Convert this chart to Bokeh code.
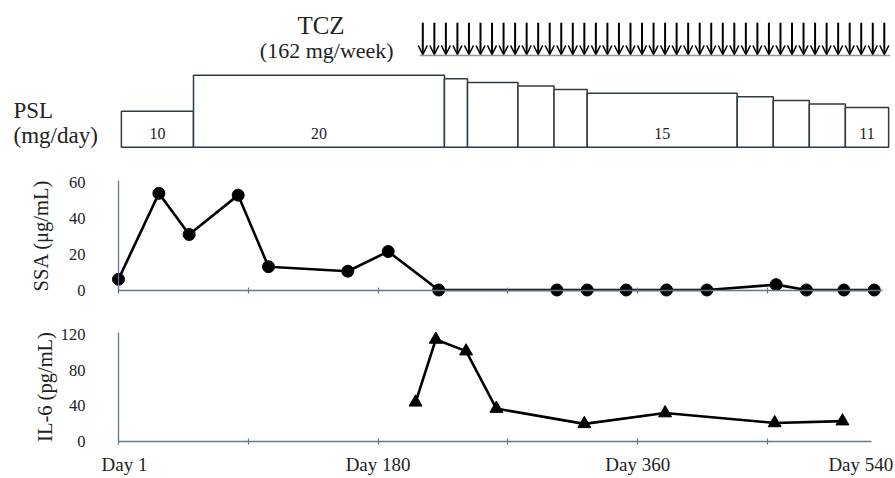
from bokeh.plotting import figure
from bokeh.models import (FixedTicker, LinearAxis, Range1d, Arrow, OpenHead,
                          ColumnDataSource, CustomJSTickFormatter)
from bokeh.layouts import column
from bokeh.embed import file_html
from bokeh.resources import INLINE
from bokeh.core.properties import value

# ---------------- data ----------------
tcz_days = [211, 219, 227, 235, 243, 251, 259, 267, 275, 283, 291, 299, 307, 315,
            323, 331, 339, 347, 355, 363, 371, 379, 387, 395, 403, 411, 419, 427,
            435, 443, 451, 459, 467, 475, 483, 491, 499, 507, 515, 523, 531]
psl_start = [2, 52, 226, 242, 277, 302, 325, 429, 454, 479, 504]
psl_end = [52, 226, 242, 277, 302, 325, 429, 454, 479, 504, 534]
psl_dose = [10, 20, 19, 18, 17, 16, 15, 14, 13, 12, 11]
psl_labels = ["10", "20", "", "", "", "", "15", "", "", "", "11"]

ssa_day = [0, 28, 49, 83, 104, 159, 187, 222, 304, 325, 352, 380, 408, 456, 477, 503, 524]
ssa_val = [6, 54, 31, 53, 13, 10.5, 21.5, 0, 0, 0, 0, 0, 0, 3, 0, 0, 0]

il6_day = [206, 220, 241, 262, 323, 379, 455, 502]
il6_val = [44, 114, 101, 37, 20, 32, 21, 23]

ssa_ticks = [0, 20, 40, 60]
il6_ticks = [0, 40, 80, 120]
day_ticks = [0, 90, 180, 270, 360, 450]
day_labels = ["Day 1", "Day 180", "Day 360", "Day 540"]
day_label_at = [0, 180, 360, 540]

# ---------------- styling ----------------
FONT = value("Liberation Serif")
FONT_NAME = "Liberation Serif"
TXT = "#222222"
AXC = "#62788a"
BOX = "#2f3b42"
W = 894
x_range = Range1d(-81.82, 538.07)


def base(h, y0, y1):
    p = figure(width=W, height=h, x_range=x_range, y_range=Range1d(y0, y1),
               output_backend="svg", toolbar_location=None,
               x_axis_location=None, y_axis_location=None, min_border=0)
    p.min_border_left = 0
    p.min_border_right = 0
    p.min_border_top = 0
    p.min_border_bottom = 0
    p.outline_line_color = None
    p.grid.visible = False
    p.background_fill_color = "white"
    p.border_fill_color = "white"
    return p


def add_axes(p, yticks, ybounds, xbounds, ylabel, label_standoff):
    xa = LinearAxis(fixed_location=0, ticker=FixedTicker(ticks=day_ticks),
                    bounds=xbounds,
                    formatter=CustomJSTickFormatter(code="return ''"))
    xa.axis_line_color = AXC
    xa.axis_line_width = 1.3
    xa.major_tick_line_color = AXC
    xa.major_tick_line_width = 1.2
    xa.major_tick_in = 3
    xa.major_tick_out = 3
    xa.minor_tick_line_color = None
    p.add_layout(xa, "below")

    ya = LinearAxis(fixed_location=0, ticker=FixedTicker(ticks=yticks),
                    bounds=ybounds, axis_label=ylabel)
    ya.axis_line_color = AXC
    ya.axis_line_width = 1.3
    ya.major_tick_line_color = None
    ya.major_tick_in = 0
    ya.major_tick_out = 0
    ya.minor_tick_line_color = None
    ya.major_label_standoff = 33
    ya.major_label_text_font = FONT_NAME
    ya.major_label_text_font_size = "16.5px"
    ya.major_label_text_color = TXT
    ya.axis_label_text_font = FONT_NAME
    ya.axis_label_text_font_size = "20.5px"
    ya.axis_label_text_font_style = "normal"
    ya.axis_label_text_color = TXT
    ya.axis_label_standoff = label_standoff
    p.add_layout(ya, "left")


# ---------------- top panel: TCZ + PSL ----------------
top = base(160, -3.69, 40.75)

top.quad(left=psl_start, right=psl_end, bottom=0, top=psl_dose,
         fill_color="white", line_color=BOX, line_width=1.5)

lab_x = [(a + b) / 2 for a, b, t in zip(psl_start, psl_end, psl_labels) if t]
lab_t = [t for t in psl_labels if t]
top.text(x=lab_x, y=[3.72] * len(lab_t), text=lab_t, text_font=FONT,
         text_font_size="16px", text_align="center", text_baseline="alphabetic",
         text_color=TXT)

top.text(x=[-72.8], y=[10.06], text=["PSL"], text_font=FONT, text_font_size="23px",
         text_align="left", text_baseline="alphabetic", text_color=TXT)
top.text(x=[-72.8], y=[3.19], text=["(mg/day)"], text_font=FONT, text_font_size="23px",
         text_align="left", text_baseline="alphabetic", text_color=TXT)
top.text(x=[140.4], y=[33.67], text=["TCZ"], text_font=FONT, text_font_size="25px",
         text_align="center", text_baseline="alphabetic", text_color=TXT)
top.text(x=[144.4], y=[26.81], text=["(162 mg/week)"], text_font=FONT,
         text_font_size="22px", text_align="center", text_baseline="alphabetic",
         text_color=TXT)

top.segment(x0=[tcz_days[0] - 2], y0=[25.47], x1=[tcz_days[-1] + 4], y1=[25.47],
            line_color="#8b969c", line_width=1.5)
arr_src = ColumnDataSource(dict(x=tcz_days, y0=[34.56] * len(tcz_days),
                                y1=[25.75] * len(tcz_days)))
top.add_layout(Arrow(end=OpenHead(size=9, line_width=1.6, line_color="black"),
                     x_start="x", y_start="y0", x_end="x", y_end="y1",
                     source=arr_src, line_width=2, line_color="black"))

# ---------------- SSA panel ----------------
ssa = base(150, -11.45, 72.35)
add_axes(ssa, ssa_ticks, (0, 61), (0, 530), "SSA (μg/mL)", 14)
ssa.line(ssa_day, ssa_val, line_color="black", line_width=2.6)
ssa.scatter(ssa_day, ssa_val, marker="circle", size=12, fill_color="black",
            line_color="black")

# ---------------- IL-6 panel ----------------
il6 = base(167, -39.78, 146.3)
add_axes(il6, il6_ticks, (0, 122), (0, 522), "IL-6 (pg/mL)", 2)
il6.line(il6_day, il6_val, line_color="black", line_width=2.6)
il6.scatter(il6_day, il6_val, marker="triangle", size=13, fill_color="black",
            line_color="black")

il6.text(x=day_label_at[:3], y=[-25.3] * 3, text=day_labels[:3], x_offset=[6, 0, 0],
         text_font=FONT, text_font_size="19px", text_align="center",
         text_baseline="alphabetic", text_color=TXT)
il6.text(x=day_label_at[3:], y=[-25.3], text=day_labels[3:], x_offset=-4,
         text_font=FONT, text_font_size="19px", text_align="right",
         text_baseline="alphabetic", text_color=TXT)

layout = column(top, ssa, il6, spacing=0)
open("out.html", "w").write(file_html(layout, INLINE))
